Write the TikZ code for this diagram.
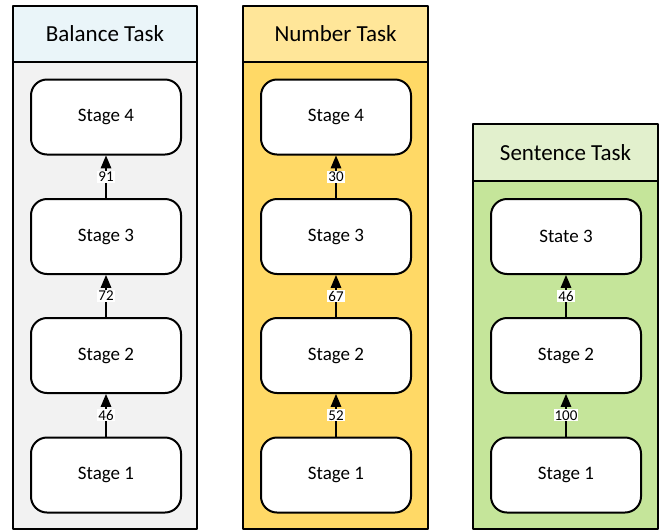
\documentclass[tikz,border=0pt]{standalone}
\usepackage{fontspec}
\setmainfont{Carlito}
\usepackage{xcolor}
\usepackage{tikz}
\usetikzlibrary{arrows}
\definecolor{balhead}{HTML}{EAF5F9}
\definecolor{balbody}{HTML}{F2F2F2}
\definecolor{numhead}{HTML}{FFE699}
\definecolor{numbody}{HTML}{FFD966}
\definecolor{senhead}{HTML}{E2F0CD}
\definecolor{senbody}{HTML}{C5E59A}
\tikzset{
	taskhead/.style={draw,line width=2pt,minimum width=184pt,minimum height=56pt,inner sep=0pt,font=\fontsize{23}{27}\selectfont},
	stagebox/.style={draw,line width=2pt,fill=white,rounded corners=16pt,minimum width=150pt,minimum height=75pt,font=\fontsize{19}{23}\selectfont},
	link/.style={->,line width=2pt},
	count/.style={fill=white,inner sep=1pt,font=\fontsize{15}{17}\selectfont}
}
\begin{document}
\begin{tikzpicture}[line cap=round,line join=round,>=triangle 45,x=1pt,y=-1pt]
	\useasboundingbox (0,0) rectangle (661,531);
	% balance task
	\draw [line width=2pt,fill=balbody] (13,62) rectangle (197,529);
	\node[taskhead,fill=balhead] (bal) at (105,34) {Balance Task};
	\node[stagebox] (b4) at (106,117) {Stage 4};
	\node[stagebox] (b3) at (106,236.5) {Stage 3};
	\node[stagebox] (b2) at (106,355.5) {Stage 2};
	\node[stagebox] (b1) at (106,475) {Stage 1};
	\draw [link] (b1) -- node[count] {46} (b2);
	\draw [link] (b2) -- node[count] {72} (b3);
	\draw [link] (b3) -- node[count] {91} (b4);
	% number task
	\draw [line width=2pt,fill=numbody] (243,62) rectangle (428,529);
	\node[taskhead,fill=numhead,minimum width=185pt] (num) at (335.5,34) {Number Task};
	\node[stagebox] (n4) at (336,117) {Stage 4};
	\node[stagebox] (n3) at (336,236.5) {Stage 3};
	\node[stagebox] (n2) at (336,355.5) {Stage 2};
	\node[stagebox] (n1) at (336,475) {Stage 1};
	\draw [link] (n1) -- node[count] {52} (n2);
	\draw [link] (n2) -- node[count] {67} (n3);
	\draw [link] (n3) -- node[count] {30} (n4);
	% sentence task
	\draw [line width=2pt,fill=senbody] (473,181) rectangle (658,529);
	\node[taskhead,fill=senhead,minimum width=185pt,minimum height=57pt] (sen) at (565.5,152.5) {Sentence Task};
	\node[stagebox] (s3) at (566,236.5) {State 3};
	\node[stagebox] (s2) at (566,355.5) {Stage 2};
	\node[stagebox] (s1) at (566,475) {Stage 1};
	\draw [link] (s1) -- node[count] {100} (s2);
	\draw [link] (s2) -- node[count] {46} (s3);
\end{tikzpicture}
\end{document}
